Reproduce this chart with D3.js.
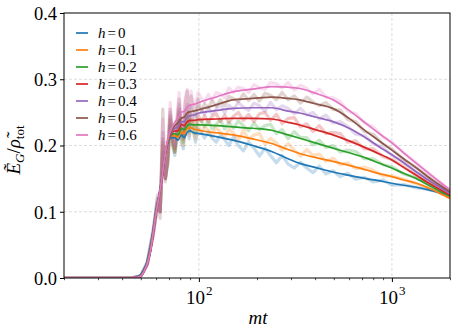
<!DOCTYPE html>
<html>
<head>
<meta charset="utf-8">
<style>
    body { margin: 0; background: #fff; }
    svg { display: block; }
</style>
</head>
<body>
<svg width="458" height="336"></svg>

<script src="https://cdn.jsdelivr.net/npm/d3@7/dist/d3.min.js"></script>
<script>
    // ---- data ----
    let hLabels = ["0", "0.1", "0.2", "0.3", "0.4", "0.5", "0.6"]
    let colors = ["#1f77b4", "#ff7f0e", "#2ca02c", "#d62728", "#9467bd", "#8c564b", "#e377c2"]

    // smoothed curves
    let smoothT = [20, 40, 46, 48, 50, 52, 54, 56, 58, 60, 62, 64, 66, 68, 70, 72,
        75, 78, 81, 84, 87, 90, 94, 100, 125, 150, 190, 238, 290, 333, 400, 495, 600, 737, 850, 1000, 1150, 1340, 1600, 2000]

    let smooth0 = [0, 0, 0, 0.002, 0.005, 0.013, 0.026, 0.046, 0.074, 0.103, 0.125, 0.148, 0.176, 0.197, 0.208, 0.212,
        0.212, 0.208, 0.216, 0.212, 0.220, 0.222, 0.219, 0.218, 0.213, 0.208, 0.200, 0.191, 0.180, 0.173, 0.167, 0.160, 0.155, 0.150, 0.147, 0.143, 0.140, 0.137, 0.132, 0.125]
    let smooth1 = [0, 0, 0, 0.001, 0.003, 0.010, 0.022, 0.040, 0.068, 0.098, 0.122, 0.145, 0.175, 0.198, 0.210, 0.215,
        0.215, 0.212, 0.221, 0.218, 0.226, 0.227, 0.225, 0.223, 0.219, 0.216, 0.210, 0.203, 0.194, 0.188, 0.182, 0.176, 0.170, 0.163, 0.158, 0.153, 0.148, 0.143, 0.134, 0.120]
    let smooth2 = [0, 0, 0, 0.001, 0.003, 0.010, 0.022, 0.040, 0.068, 0.098, 0.122, 0.145, 0.175, 0.198, 0.210, 0.216,
        0.218, 0.216, 0.226, 0.224, 0.230, 0.232, 0.231, 0.231, 0.230, 0.228, 0.226, 0.223, 0.216, 0.211, 0.204, 0.196, 0.189, 0.181, 0.174, 0.166, 0.158, 0.150, 0.138, 0.123]
    let smooth3 = [0, 0, 0, 0.001, 0.003, 0.010, 0.022, 0.040, 0.068, 0.098, 0.122, 0.145, 0.175, 0.198, 0.211, 0.218,
        0.222, 0.222, 0.232, 0.230, 0.236, 0.238, 0.238, 0.239, 0.240, 0.241, 0.241, 0.240, 0.235, 0.231, 0.224, 0.216, 0.207, 0.196, 0.188, 0.178, 0.167, 0.155, 0.141, 0.125]
    let smooth4 = [0, 0, 0, 0.001, 0.003, 0.010, 0.022, 0.040, 0.068, 0.098, 0.122, 0.145, 0.175, 0.199, 0.213, 0.220,
        0.226, 0.228, 0.236, 0.236, 0.243, 0.245, 0.246, 0.249, 0.253, 0.256, 0.257, 0.257, 0.252, 0.249, 0.243, 0.236, 0.226, 0.211, 0.199, 0.186, 0.174, 0.160, 0.145, 0.128]
    let smooth5 = [0, 0, 0, 0.001, 0.003, 0.010, 0.022, 0.040, 0.068, 0.098, 0.122, 0.145, 0.175, 0.199, 0.214, 0.222,
        0.230, 0.234, 0.241, 0.243, 0.249, 0.251, 0.252, 0.254, 0.262, 0.269, 0.271, 0.273, 0.271, 0.269, 0.263, 0.256, 0.241, 0.221, 0.208, 0.193, 0.180, 0.166, 0.149, 0.130]
    let smooth6 = [0, 0, 0, 0.001, 0.003, 0.010, 0.022, 0.040, 0.068, 0.098, 0.122, 0.146, 0.176, 0.200, 0.216, 0.225,
        0.235, 0.242, 0.250, 0.252, 0.258, 0.261, 0.262, 0.265, 0.274, 0.281, 0.285, 0.289, 0.288, 0.286, 0.279, 0.269, 0.253, 0.233, 0.219, 0.204, 0.189, 0.173, 0.155, 0.133]

    // raw (noisy) traces, drawn faint behind the smoothed ones
    let rawT = [20, 45, 50, 54, 58, 61, 63, 65, 67, 69, 71, 73, 75, 77, 79, 81, 83, 85, 87, 89, 91, 93, 96, 99,
        103, 107, 112, 117, 123, 129, 136, 143, 151, 160, 170, 181, 193, 206, 220, 235, 252, 270, 290, 312, 336, 362,
        390, 420, 455, 495, 540, 590, 650, 720, 800, 900, 1000, 1150, 1350, 1600, 2000]

    let raw0 = [0, 0, 0.004, 0.025, 0.075, 0.12, 0.10, 0.19, 0.15, 0.17, 0.23, 0.20, 0.185, 0.21, 0.24, 0.205, 0.195, 0.225, 0.235, 0.21, 0.23, 0.225, 0.205, 0.225,
        0.220, 0.211, 0.221, 0.211, 0.205, 0.216, 0.209, 0.200, 0.213, 0.200, 0.192, 0.205, 0.196, 0.184, 0.196, 0.185, 0.174, 0.185, 0.172, 0.166, 0.175, 0.166,
        0.159, 0.169, 0.157, 0.162, 0.153, 0.158, 0.149, 0.152, 0.145, 0.148, 0.140, 0.141, 0.136, 0.133, 0.125]
    let raw1 = [0, 0, 0.003, 0.022, 0.07, 0.115, 0.10, 0.20, 0.15, 0.175, 0.235, 0.20, 0.19, 0.215, 0.245, 0.21, 0.20, 0.23, 0.24, 0.215, 0.235, 0.228, 0.21, 0.232,
        0.219, 0.229, 0.223, 0.214, 0.228, 0.220, 0.213, 0.225, 0.219, 0.207, 0.223, 0.209, 0.216, 0.218, 0.202, 0.211, 0.204, 0.193, 0.203, 0.193, 0.184, 0.194,
        0.185, 0.187, 0.176, 0.181, 0.171, 0.174, 0.165, 0.167, 0.163, 0.154, 0.154, 0.149, 0.142, 0.134, 0.121]
    let raw2 = [0, 0, 0.003, 0.022, 0.068, 0.112, 0.10, 0.205, 0.15, 0.178, 0.24, 0.205, 0.19, 0.22, 0.25, 0.215, 0.205, 0.235, 0.245, 0.22, 0.24, 0.232, 0.218, 0.24,
        0.237, 0.228, 0.238, 0.225, 0.232, 0.239, 0.225, 0.235, 0.226, 0.237, 0.230, 0.222, 0.234, 0.224, 0.230, 0.232, 0.218, 0.224, 0.210, 0.221, 0.212, 0.212,
        0.201, 0.208, 0.197, 0.200, 0.190, 0.193, 0.191, 0.180, 0.180, 0.171, 0.168, 0.157, 0.151, 0.138, 0.123]
    let raw3 = [0, 0, 0.003, 0.021, 0.067, 0.11, 0.10, 0.21, 0.15, 0.18, 0.245, 0.21, 0.195, 0.225, 0.255, 0.22, 0.21, 0.24, 0.252, 0.225, 0.248, 0.238, 0.228, 0.246,
        0.236, 0.245, 0.235, 0.244, 0.248, 0.236, 0.246, 0.235, 0.244, 0.250, 0.238, 0.247, 0.236, 0.248, 0.250, 0.238, 0.247, 0.233, 0.241, 0.242, 0.228, 0.233,
        0.221, 0.230, 0.218, 0.220, 0.218, 0.205, 0.207, 0.195, 0.195, 0.183, 0.179, 0.168, 0.154, 0.142, 0.125]
    let raw4 = [0, 0, 0.003, 0.02, 0.066, 0.108, 0.10, 0.22, 0.15, 0.185, 0.25, 0.215, 0.20, 0.232, 0.262, 0.228, 0.218, 0.25, 0.262, 0.235, 0.258, 0.248, 0.238, 0.258,
        0.254, 0.247, 0.258, 0.248, 0.255, 0.262, 0.249, 0.261, 0.254, 0.265, 0.258, 0.253, 0.264, 0.260, 0.252, 0.265, 0.254, 0.260, 0.256, 0.248, 0.256, 0.246,
        0.250, 0.240, 0.246, 0.234, 0.236, 0.229, 0.217, 0.215, 0.203, 0.197, 0.185, 0.175, 0.159, 0.146, 0.128]
    let raw5 = [0, 0, 0.003, 0.02, 0.065, 0.125, 0.09, 0.255, 0.145, 0.19, 0.255, 0.21, 0.19, 0.235, 0.27, 0.225, 0.215, 0.265, 0.282, 0.235, 0.275, 0.258, 0.245, 0.27,
        0.251, 0.263, 0.257, 0.268, 0.259, 0.269, 0.260, 0.274, 0.271, 0.266, 0.278, 0.268, 0.277, 0.267, 0.279, 0.276, 0.269, 0.280, 0.269, 0.275, 0.264, 0.273,
        0.266, 0.260, 0.265, 0.254, 0.254, 0.239, 0.236, 0.221, 0.217, 0.202, 0.195, 0.179, 0.166, 0.149, 0.130]
    let raw6 = [0, 0, 0.003, 0.02, 0.065, 0.115, 0.10, 0.24, 0.15, 0.20, 0.265, 0.22, 0.20, 0.245, 0.28, 0.235, 0.23, 0.272, 0.285, 0.25, 0.282, 0.268, 0.258, 0.28,
        0.271, 0.266, 0.277, 0.268, 0.280, 0.278, 0.272, 0.287, 0.280, 0.288, 0.286, 0.280, 0.292, 0.287, 0.285, 0.295, 0.293, 0.287, 0.295, 0.284, 0.291, 0.286,
        0.278, 0.285, 0.273, 0.272, 0.266, 0.252, 0.248, 0.234, 0.228, 0.213, 0.205, 0.189, 0.173, 0.155, 0.133]

    let yTicks = [0, 0.1, 0.2, 0.3, 0.4]
    let xMajor = [100, 1000]
    let xMinor = [20, 30, 40, 50, 60, 70, 80, 90, 200, 300, 400, 500, 600, 700, 800, 900, 2000]

    let smoothAll = [smooth0, smooth1, smooth2, smooth3, smooth4, smooth5, smooth6]
    let rawAll = [raw0, raw1, raw2, raw3, raw4, raw5, raw6]

    // ---- layout ----
    let mLeft = 64, mRight = 450, mTop = 13, mBottom = 278
    let serif = "Liberation Serif"

    let svg = d3.select("svg")

    let x = d3.scaleLog().domain([20, 2000]).range([mLeft, mRight])
    let y = d3.scaleLinear().domain([0, 0.4]).range([mBottom, mTop])

    svg.append("clipPath").attr("id", "plot")
        .append("rect")
        .attr("x", mLeft).attr("y", mTop)
        .attr("width", mRight - mLeft).attr("height", mBottom - mTop)

    // grid
    svg.append("g")
        .selectAll("line")
        .data(yTicks.slice(1, 4))
        .join("line")
        .attr("x1", mLeft).attr("x2", mRight)
        .attr("y1", d => y(d)).attr("y2", d => y(d))
        .style("stroke", "#d4d4d4")
        .style("stroke-width", 0.8)
        .style("stroke-dasharray", "3,2")

    svg.append("g")
        .selectAll("line")
        .data(xMajor)
        .join("line")
        .attr("x1", d => x(d)).attr("x2", d => x(d))
        .attr("y1", mTop).attr("y2", mBottom)
        .style("stroke", "#d4d4d4")
        .style("stroke-width", 0.8)
        .style("stroke-dasharray", "3,2")

    let plot = svg.append("g").attr("clip-path", "url(#plot)")

    let rawLine = d3.line()
        .x((d, i) => x(rawT[i]))
        .y(d => y(d))

    let smoothLine = d3.line()
        .x((d, i) => x(smoothT[i]))
        .y(d => y(d))
        .curve(d3.curveMonotoneX)

    plot.selectAll(".raw")
        .data(rawAll)
        .join("path")
        .attr("class", "raw")
        .attr("d", rawLine)
        .style("fill", "none")
        .style("stroke", (d, i) => colors[i])
        .style("stroke-width", 3.2)
        .style("stroke-opacity", 0.26)
        .style("stroke-linejoin", "round")

    plot.selectAll(".smooth")
        .data(smoothAll)
        .join("path")
        .attr("class", "smooth")
        .attr("d", smoothLine)
        .style("fill", "none")
        .style("stroke", (d, i) => colors[i])
        .style("stroke-width", 1.7)

    // axes
    let yAxis = svg.append("g")
        .attr("transform", `translate(${mLeft},0)`)
        .call(d3.axisLeft(y).tickValues(yTicks).tickFormat(d3.format(".1f")).tickSize(4).tickPadding(3))
    yAxis.attr("font-family", serif)
    yAxis.select(".domain").remove()
    yAxis.selectAll("text")
        .attr("font-family", serif)
        .attr("dy", "0.34em")
        .style("fill", "#000")
        .style("font-size", "18.5px")

    let xAxis = svg.append("g")
        .attr("transform", `translate(0,${mBottom})`)
        .call(d3.axisBottom(x).tickValues(xMajor).tickFormat("").tickSize(4))
    xAxis.select(".domain").remove()

    let xMinorAxis = svg.append("g")
        .attr("transform", `translate(0,${mBottom})`)
        .call(d3.axisBottom(x).tickValues(xMinor).tickFormat("").tickSize(2.2))
    xMinorAxis.select(".domain").remove()
    xMinorAxis.selectAll("line").style("stroke-width", 0.7)

    let xLab = svg.append("g")
        .selectAll("text")
        .data(xMajor)
        .join("text")
        .attr("x", d => x(d) - 13)
        .attr("y", 304)
        .attr("font-family", serif)
        .style("font-size", "19px")
    xLab.append("tspan").text("10")
    xLab.append("tspan")
        .attr("dy", -9)
        .attr("dx", 1)
        .style("font-size", "13px")
        .text(d => String(Math.round(Math.log10(d))))

    // frame
    svg.append("rect")
        .attr("x", mLeft).attr("y", mTop)
        .attr("width", mRight - mLeft).attr("height", mBottom - mTop)
        .style("fill", "none")
        .style("stroke", "#000")
        .style("stroke-width", 1)

    // axis titles
    svg.append("text")
        .attr("x", 258).attr("y", 324)
        .attr("text-anchor", "middle")
        .attr("font-family", serif)
        .style("font-size", "19px")
        .style("font-style", "italic")
        .text("mt")

    let yt = svg.append("text")
        .attr("transform", "translate(20,150) rotate(-90)")
        .attr("text-anchor", "middle")
        .attr("font-family", serif)
        .style("font-size", "19px")
    yt.append("tspan").style("font-style", "italic").text("\u1EBC")
    yt.append("tspan").attr("dy", 4).style("font-size", "13px").style("font-style", "italic").text("G")
    yt.append("tspan").attr("dy", -4).text("/")
    yt.append("tspan").style("font-style", "italic").text("\u03C1\u0303")
    yt.append("tspan").attr("dy", 4).style("font-size", "13px").text("tot")

    // legend
    let legend = svg.append("g")
        .selectAll("g")
        .data(hLabels)
        .join("g")
        .attr("transform", (d, i) => `translate(0,${33 + i * 17})`)

    legend.append("line")
        .attr("x1", 76).attr("x2", 88)
        .attr("y1", 0).attr("y2", 0)
        .style("stroke", (d, i) => colors[i])
        .style("stroke-width", 1.7)

    let lt = legend.append("text")
        .attr("x", 98).attr("y", 5)
        .attr("font-family", serif)
        .style("font-size", "15px")
    lt.append("tspan").style("font-style", "italic").text("h")
    lt.append("tspan").attr("dx", 2).text("=")
    lt.append("tspan").attr("dx", 2).text(d => d)
</script>
</body>
</html>
